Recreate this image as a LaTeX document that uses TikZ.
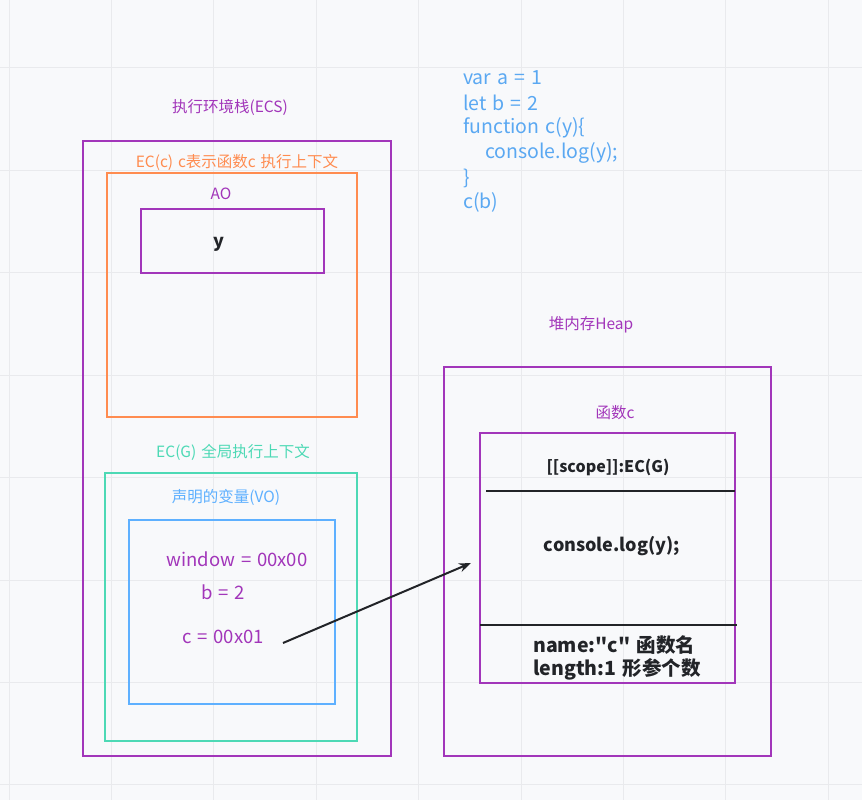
\documentclass[tikz,border=0pt]{standalone}
\usepackage{fontspec}
\setmainfont{Noto Sans CJK SC}
\newfontfamily\cjk{Noto Sans CJK SC}[WordSpace=1.4]
\usetikzlibrary{arrows.meta}
\definecolor{bgc}{HTML}{F8F9FB}
\definecolor{gridc}{HTML}{E9EAED}
\definecolor{purp}{HTML}{A236BA}
\definecolor{orng}{HTML}{FF8C50}
\definecolor{teal}{HTML}{4DD9B5}
\definecolor{blu}{HTML}{5EB0FF}
\definecolor{codec}{HTML}{5AA8F2}
\definecolor{dark}{HTML}{222428}
\tikzset{
  box/.style={draw=#1, line width=2pt},
  lbl/.style={font=\cjk\fontsize{15.5}{17}\selectfont, inner sep=0pt, anchor=center},
  varl/.style={font=\cjk\fontsize{18.5}{20}\selectfont, text=purp, inner sep=0pt},
  boldt/.style={font=\cjk\fontsize{18}{20}\selectfont\bfseries, text=dark, inner sep=0pt},
  codel/.style={font=\cjk\fontsize{19.5}{21}\selectfont, text=codec, inner sep=0pt, anchor=west},
}
\begin{document}
\begin{tikzpicture}[x=1pt,y=-1pt]
\useasboundingbox (0,0) rectangle (862,800);
\fill[bgc] (0,0) rectangle (862,800);
\foreach \i in {0,...,8} {\draw[gridc, line width=1pt] ({9+102.4*\i},0) -- ({9+102.4*\i},800);}
\foreach \j in {0,...,7} {\draw[gridc, line width=1pt] (0,{68+102.4*\j}) -- (862,{68+102.4*\j});}

% code
\node[codel] (l1) at (463,78) {var a = 1};
\node[codel] (l2) at (463,103) {let b = 2};
\node[codel] (l3) at (463,128) {function c(y)\{};
\node[codel] (l4) at (485,153) {console.log(y);};
\node[codel] (l5) at (463,178) {\}};
\node[codel] (l6) at (463,202) {c(b)};

% ECS
\node[lbl, text=purp] (ecsT) at (230,107) {执行环境栈(ECS)};
\draw[box=purp] (83,141) rectangle (391,756);
\node[lbl, text=orng] (eccT) at (237,162) {EC(c) c表示函数c 执行上下文};
\draw[box=orng] (107,173) rectangle (357,417);
\node[lbl, text=purp] (aoT) at (221,194) {AO};
\draw[box=purp] (141,209) rectangle (324,273);
\node[boldt] (yv) at (219,244) {y};

\node[lbl, text=teal] (ecgT) at (233,452) {EC(G) 全局执行上下文};
\draw[box=teal] (105,473) rectangle (357,741);
\node[lbl, text=blu] (voT) at (226,497) {声明的变量(VO)};
\draw[box=blu] (129,520) rectangle (335,704);
\node[varl] (win) at (237,559) {window = 00x00};
\node[varl] (bv) at (223,592) {b = 2};
\node[varl] (cv) at (223,637) {c = 00x01};

% Heap
\node[lbl, text=purp] (heapT) at (591,325) {堆内存Heap};
\draw[box=purp] (444,367) rectangle (771,756);
\node[lbl, text=purp] (fnT) at (615,413) {函数c};
\draw[box=purp] (480,433) rectangle (735,683);
\node[boldt, font=\cjk\fontsize{16}{18}\selectfont\bfseries] (scope) at (608,467) {[[scope]]:EC(G)};
\draw[dark, line width=2pt] (486,491) -- (735,491);
\node[boldt] (body) at (612,546) {console.log(y);};
\draw[dark, line width=2pt] (480,625) -- (737,625);
\node[boldt, anchor=west, font=\cjk\fontsize{19.5}{21}\selectfont\bfseries] (nm) at (533,645) {name:"c" 函数名};
\node[boldt, anchor=west, font=\cjk\fontsize{19.5}{21}\selectfont\bfseries] (len) at (533,669) {length:1 形参个数};

\coordinate (as) at (283,643);
\coordinate (ae) at (471,563);
\draw[dark, line width=2pt, -{Stealth[length=12pt,width=9pt]}] (as) -- (ae);
\end{tikzpicture}
\end{document}
